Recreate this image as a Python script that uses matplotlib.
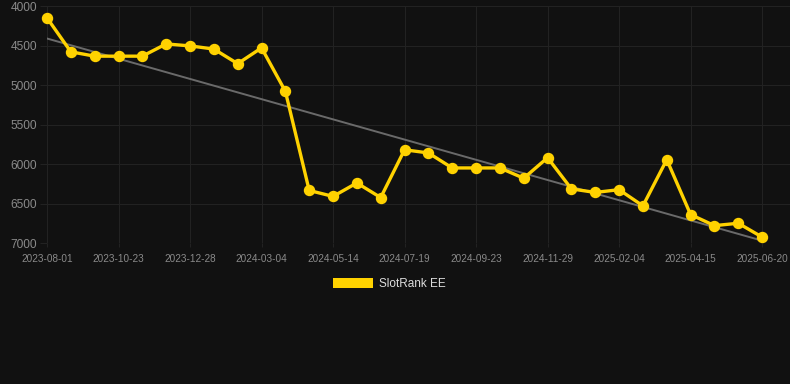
import numpy as np
import matplotlib.pyplot as plt
from matplotlib.patches import Patch

# rank values, one per period (lower rank number = better, axis is inverted)
ranks = [4150, 4580, 4635, 4635, 4635, 4480, 4505, 4545, 4730, 4530,
         5080, 6335, 6410, 6240, 6425, 5820, 5860, 6050, 6050, 6050,
         6180, 5920, 6315, 6360, 6325, 6530, 5945, 6640, 6780, 6750,
         6925]
tick_labels = ['2023-08-01', '2023-10-23', '2023-12-28', '2024-03-04',
               '2024-05-14', '2024-07-19', '2024-09-23', '2024-11-29',
               '2025-02-04', '2025-04-15', '2025-06-20']
series_name = 'SlotRank EE'

bg = '#111111'
yellow = '#ffd200'
grid_c = '#222222'

x = np.arange(len(ranks))
slope, intercept = np.polyfit(x, ranks, 1)

fig = plt.figure(figsize=(7.9, 3.84), dpi=100, facecolor=bg)
ax = fig.add_axes([47 / 790, 141 / 384, 743 / 790, 237 / 384], facecolor=bg)
plt.rcParams['font.family'] = ['Liberation Sans', 'DejaVu Sans']

ax.plot(x, slope * x + intercept, color='#6a6a6a', lw=1.4, zorder=2)
ax.plot(x, ranks, color=yellow, lw=2.4, marker='o', ms=7.2,
        zorder=3, clip_on=False)

ax.set_xlim(0, len(ranks) - 1 + 1.17)
ax.set_ylim(7000, 4000)
ax.set_yticks(range(4000, 7001, 500))
ax.set_xticks(x[::3])
ax.set_xticklabels(tick_labels)

for s in ax.spines.values():
    s.set_visible(False)
ax.grid(True, color=grid_c, lw=0.8)
ax.set_axisbelow(True)
ax.tick_params(axis='x', length=3, width=0.8, color=grid_c, pad=5,
               labelsize=7.2, labelcolor='#8a8a8a')
ax.tick_params(axis='y', length=5, width=0.8, color=grid_c, pad=2,
               labelsize=8.6, labelcolor='#8a8a8a')
for lab in ax.get_xticklabels() + ax.get_yticklabels():
    lab.set_family('Liberation Sans')

handle = Patch(facecolor=yellow, edgecolor='none')
leg = fig.legend([handle], [series_name], loc='center',
                 bbox_to_anchor=(389.5 / 790, 1 - 284 / 384), frameon=False,
                 handlelength=3.4, handleheight=1.0, handletextpad=0.5,
                 prop={'family': 'Liberation Sans', 'size': 8.5})
for t in leg.get_texts():
    t.set_color('#dddddd')

fig.savefig('out.png', dpi=100, facecolor=bg)
